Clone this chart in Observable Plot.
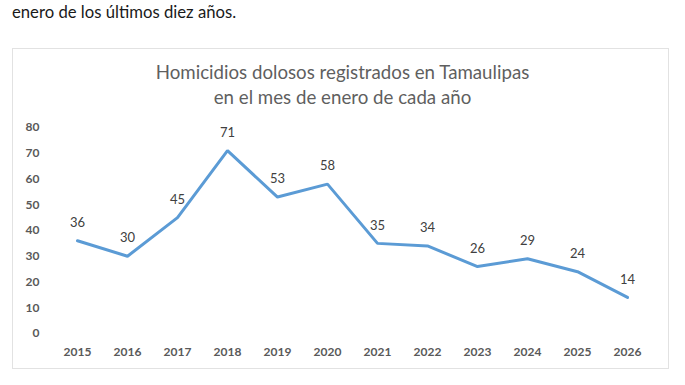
<!DOCTYPE html>
<html>
<head>
<meta charset="utf-8">
<script src="https://cdn.jsdelivr.net/npm/d3@7"></script>
<script src="https://cdn.jsdelivr.net/npm/@observablehq/plot@0.6"></script>
<style>
  html, body { margin: 0; padding: 0; background: #fff; }
  body { width: 685px; height: 385px; position: relative; overflow: hidden; font-family: Lato, "Open Sans", sans-serif; }
  #intro { position: absolute; left: 12px; top: 2px; font-size: 16.7px; color: #1a1a1a; }
  #box { position: absolute; left: 12px; top: 48px; width: 655px; height: 319px; border: 1px solid #e2e2e2; }
  #title { position: absolute; left: 0; top: 60px; width: 685px; text-align: center; font-size: 18.7px; line-height: 25px; color: #5f5f5f; }
  #chart { position: absolute; left: 0; top: 110px; }
</style>
</head>
<body>
<div id="intro">enero de los últimos diez años.</div>
<div id="box"></div>
<div id="title">Homicidios dolosos registrados en Tamaulipas<br>en el mes de enero de cada año</div>
<div id="chart"></div>
<script>
const years = ["2015","2016","2017","2018","2019","2020","2021","2022","2023","2024","2025","2026"];
const homicidios = [36, 30, 45, 71, 53, 58, 35, 34, 26, 29, 24, 14];
const yTicks = [0, 10, 20, 30, 40, 50, 60, 70, 80];

const data = years.map((y, i) => ({year: y, value: homicidios[i]}));

const chart = Plot.plot({
  width: 685,
  height: 260,
  marginLeft: 52,
  marginRight: 33,
  marginTop: 17,
  marginBottom: 37,
  style: {fontFamily: "Lato, 'Open Sans', sans-serif", background: "transparent"},
  x: {type: "point", domain: years, padding: 0.5, label: null},
  y: {domain: [0, 80], ticks: yTicks, label: null},
  marks: [
    Plot.ruleY(yTicks, {stroke: "#dcdcdc", strokeWidth: 1.2, x1: 50, x2: 652}),
    Plot.axisY({ticks: yTicks, tickSize: 0, tickPadding: 13, fontSize: 12, fontWeight: "bold", fill: "#595959", label: null}),
    Plot.axisX({tickSize: 0, tickPadding: 14, fontSize: 12, fontWeight: "bold", fill: "#595959", label: null}),
    Plot.line(data, {x: "year", y: "value", stroke: "#5B9BD5", strokeWidth: 3, strokeLinejoin: "miter"}),
    Plot.text(data, {x: "year", y: "value", text: d => String(d.value), dy: -18, fontSize: 13, fill: "#404040"})
  ]
});
document.getElementById("chart").appendChild(chart);
</script>
</body>
</html>
